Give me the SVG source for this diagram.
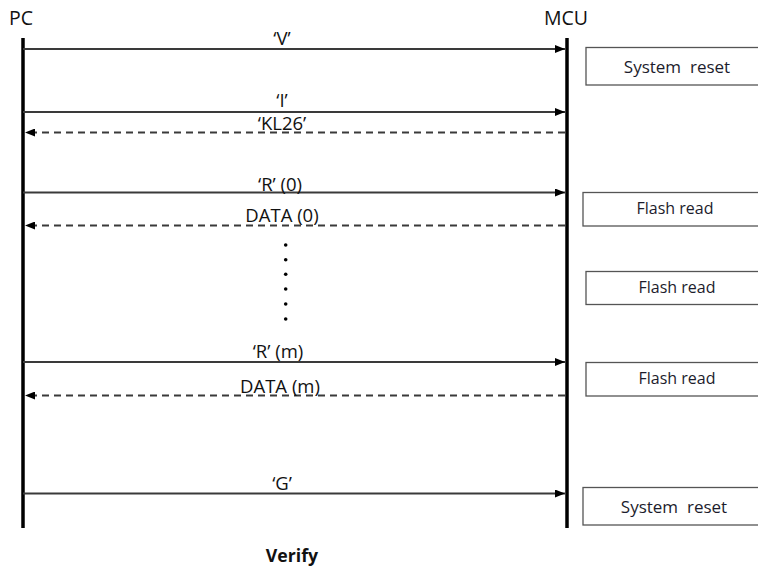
<svg xmlns="http://www.w3.org/2000/svg" width="758" height="567" viewBox="0 0 758 567">
<style>
text{font-family:"Open Sans","Noto Sans","Liberation Sans",sans-serif;fill:#111}
.lbl{font-size:18.5px;text-anchor:middle}
.hd{font-size:19.5px;text-anchor:middle}
.box{fill:#fff;stroke:#555;stroke-width:1.3}
.bt{font-size:16px;text-anchor:middle;fill:#1c1c2c;white-space:pre}
.big{font-size:17px}
.life{stroke:#000;stroke-width:3.5}
.msg{stroke:#3a3a3a;stroke-width:2;fill:none}
.ret{stroke:#3a3a3a;stroke-width:2;fill:none;stroke-dasharray:7 5}
</style>
<defs>
<marker id="ah" markerWidth="10" markerHeight="8" refX="10" refY="4" orient="auto" markerUnits="userSpaceOnUse">
<path d="M0,0 L10,4 L0,8 Z" fill="#000"/>
</marker>
</defs>
<g id="pc">
<text x="21" y="25" class="hd">PC</text>
<line x1="23" y1="38" x2="23" y2="528" class="life"/>
</g>
<g id="mcu">
<text x="566" y="25" class="hd">MCU</text>
<line x1="567" y1="38" x2="567" y2="528" class="life"/>
</g>
<g id="connectors">
<line x1="23" y1="49" x2="565" y2="49" class="msg" marker-end="url(#ah)"/>
<line x1="23" y1="112" x2="565" y2="112" class="msg" marker-end="url(#ah)"/>
<line x1="565" y1="132.5" x2="25" y2="132.5" class="ret" marker-end="url(#ah)"/>
<line x1="23" y1="192.5" x2="565" y2="192.5" class="msg" marker-end="url(#ah)"/>
<line x1="565" y1="225.5" x2="25" y2="225.5" class="ret" marker-end="url(#ah)"/>
<line x1="23" y1="362" x2="565" y2="362" class="msg" marker-end="url(#ah)"/>
<line x1="565" y1="395.5" x2="25" y2="395.5" class="ret" marker-end="url(#ah)"/>
<line x1="23" y1="493.5" x2="565" y2="493.5" class="msg" marker-end="url(#ah)"/>
</g>
<g id="labels">
<text x="282" y="45" class="lbl">‘V’</text>
<text x="282" y="107" class="lbl">‘I’</text>
<text x="282" y="130" class="lbl">‘KL26’</text>
<text x="280" y="191" class="lbl">‘R’ (0)</text>
<text x="282" y="222" class="lbl">DATA (0)</text>
<text x="278" y="358" class="lbl">‘R’ (m)</text>
<text x="280" y="393" class="lbl">DATA (m)</text>
<text x="282" y="490" class="lbl">‘G’</text>
<text x="292" y="562" class="lbl" style="font-weight:bold;font-size:17.7px">Verify</text>
</g>
<g id="dots" fill="#000">
<circle cx="285.7" cy="245" r="1.8"/>
<circle cx="285.7" cy="259.7" r="1.8"/>
<circle cx="285.7" cy="274.3" r="1.8"/>
<circle cx="285.7" cy="289" r="1.8"/>
<circle cx="285.7" cy="304" r="1.8"/>
<circle cx="285.7" cy="319" r="1.8"/>
</g>
<g id="box-reset1">
<rect x="586" y="47.5" width="180" height="37.5" class="box"/>
<text x="677" y="73" class="bt big" xml:space="preserve">System  reset</text>
</g>
<g id="box-flash1">
<rect x="583" y="192.5" width="180" height="33.5" class="box"/>
<text x="675" y="214" class="bt">Flash read</text>
</g>
<g id="box-flash2">
<rect x="586" y="271.5" width="180" height="33" class="box"/>
<text x="677" y="293" class="bt">Flash read</text>
</g>
<g id="box-flash3">
<rect x="586" y="362.5" width="180" height="33.5" class="box"/>
<text x="677" y="384" class="bt">Flash read</text>
</g>
<g id="box-reset2">
<rect x="583" y="487.5" width="180" height="37.5" class="box"/>
<text x="674" y="513" class="bt big" xml:space="preserve">System  reset</text>
</g>
</svg>
